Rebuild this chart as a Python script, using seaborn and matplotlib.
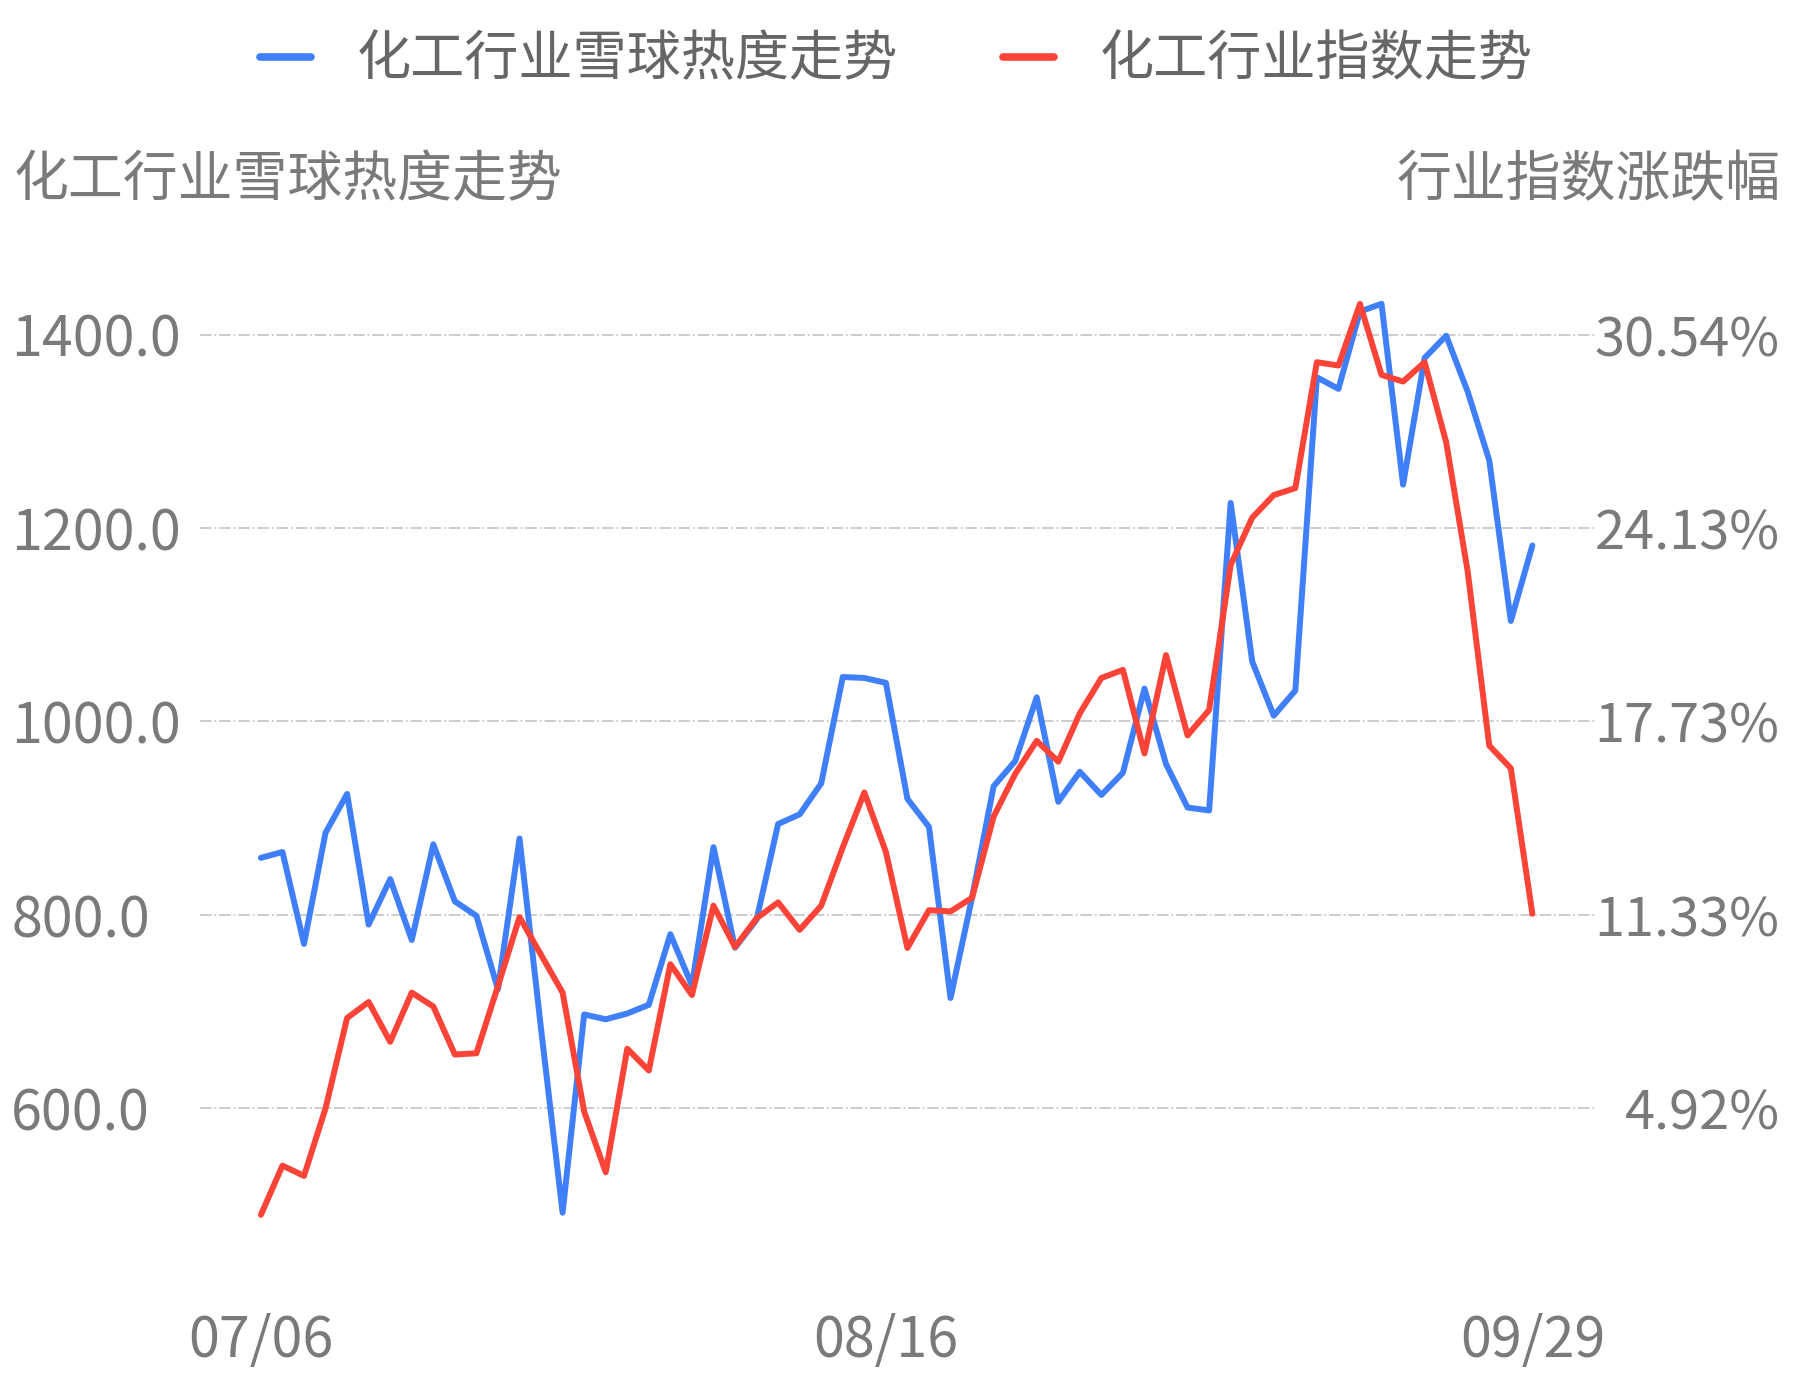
import numpy as np
import pandas as pd
import matplotlib
matplotlib.use('Agg')
import matplotlib.pyplot as plt
import seaborn as sns


# ── data ──────────────────────────────────────────────────────
heat = [859, 865, 770, 885, 925, 790, 837, 774, 873, 814,
        799, 723, 879, 682, 492, 697, 692, 698, 707, 780,
        727, 870, 766, 795, 894, 904, 936, 1046, 1045, 1040,
        920, 891, 714, 818, 933, 959, 1025, 917, 948, 924,
        947, 1034, 956, 911, 908, 1226, 1062, 1006, 1032, 1356,
        1344, 1424, 1432, 1245, 1376, 1399, 1341, 1270, 1104, 1182]

index_pct = [1.39, 3.02, 2.68, 4.92, 7.91, 8.44, 7.12, 8.75, 8.29, 6.70,
             6.74, 8.97, 11.25, 10.00, 8.75, 4.81, 2.80, 6.89, 6.17, 9.69,
             8.67, 11.63, 10.26, 11.21, 11.74, 10.83, 11.63, 13.56, 15.38, 13.41,
             10.23, 11.48, 11.44, 11.89, 14.58, 15.99, 17.09, 16.40, 18.00, 19.17,
             19.44, 16.67, 19.93, 17.27, 18.11, 22.92, 24.48, 25.23, 25.46, 29.63,
             29.52, 31.56, 29.21, 28.99, 29.63, 26.98, 22.69, 16.93, 16.18, 11.36]

x_tick_pos = [0, 29, 59]
x_tick_labels = ['07/06', '08/16', '09/29']

left_ticks = [600, 800, 1000, 1200, 1400]
right_ticks = [4.92, 11.33, 17.73, 24.13, 30.54]

heat_name = '化工行业雪球热度走势'
index_name = '化工行业指数走势'
left_title = '化工行业雪球热度走势'
right_title = '行业指数涨跌幅'

BLUE = '#3f7ffa'
RED = '#fb4437'
TEXT = '#7a7a7a'

df = pd.DataFrame({'day': np.arange(len(heat)), 'heat': heat, 'pct': index_pct})

sns.set_theme(style='white')
plt.rcParams['font.family'] = ['Noto Sans CJK SC', 'DejaVu Sans']

FS = 39.5      # axis titles
FS_LEG = 39    # legend
FS_TICK = 40   # numbers

fig = plt.figure(figsize=(17.93, 13.80), dpi=100)
ax = fig.add_axes([0.1115, 0.0652, 0.778, 0.7609])
ax2 = ax.twinx()

sns.lineplot(data=df, x='day', y='heat', ax=ax, color=BLUE, linewidth=4.3,
             label=heat_name, legend=False)
sns.lineplot(data=df, x='day', y='pct', ax=ax2, color=RED, linewidth=4.3,
             label=index_name, legend=False)

# scales: right axis ticks share the left gridlines
ylo, yhi = 412, 1498
ax.set_ylim(ylo, yhi)
k = (right_ticks[-1] - right_ticks[0]) / (left_ticks[-1] - left_ticks[0])
ax2.set_ylim(right_ticks[0] + (ylo - left_ticks[0]) * k,
             right_ticks[0] + (yhi - left_ticks[0]) * k)
ax.set_xlim(-2.83, 61.9)

ax.set_yticks(left_ticks)
ax.set_yticklabels([f'{v:.1f}' for v in left_ticks])
ax2.set_yticks(right_ticks)
ax2.set_yticklabels([f'{v:.2f}%' for v in right_ticks])
ax.set_xticks(x_tick_pos)
ax.set_xticklabels(x_tick_labels)

ax.tick_params(axis='y', length=0, pad=136, labelsize=FS_TICK, labelcolor=TEXT)
for t in ax.get_yticklabels():
    t.set_horizontalalignment('left')
ax2.tick_params(axis='y', length=0, pad=133, labelsize=FS_TICK - 1, labelcolor=TEXT)
for t in ax2.get_yticklabels():
    t.set_horizontalalignment('right')
ax.tick_params(axis='x', length=0, pad=16, labelsize=FS_TICK, labelcolor=TEXT)

ax.set_xlabel('')
ax.set_ylabel('')
ax2.set_ylabel('')
ax.grid(False)
ax2.grid(False)
ax.yaxis.grid(True, color='#c8c8c8', linestyle='-.', linewidth=1.3)
for a in (ax, ax2):
    for s in a.spines.values():
        s.set_visible(False)

fig.text(14 / 1793, 1 - 180 / 1380, left_title, fontsize=FS, color=TEXT,
         ha='left', va='center')
fig.text(1781 / 1793, 1 - 180 / 1380, right_title, fontsize=FS, color=TEXT,
         ha='right', va='center')

h1, l1 = ax.get_legend_handles_labels()
h2, l2 = ax2.get_legend_handles_labels()
leg = fig.legend(h1 + h2, l1 + l2, loc='center', ncol=2,
                 bbox_to_anchor=(0.5, 1 - 60 / 1380), frameon=False,
                 fontsize=FS_LEG, handlelength=0.93, handletextpad=0.85,
                 columnspacing=1.95)
for t in leg.get_texts():
    t.set_color('#666666')
for h in leg.legend_handles:
    h.set_linewidth(5.5)
    h.set_solid_capstyle('round')

fig.savefig('out.png', dpi=100)
